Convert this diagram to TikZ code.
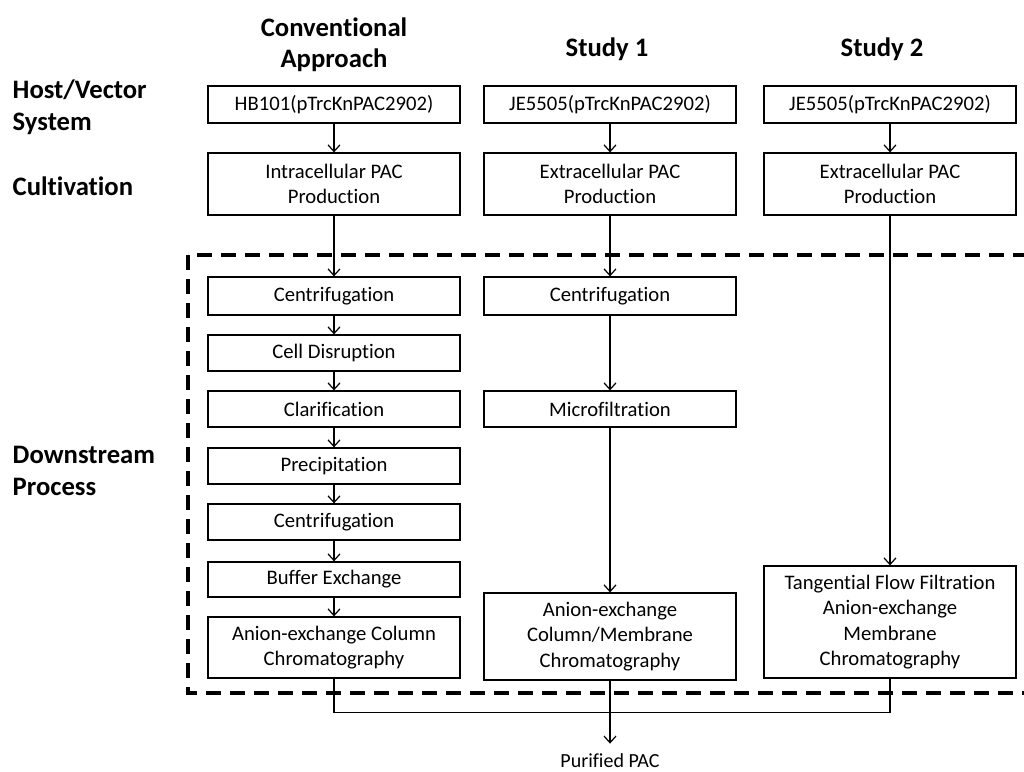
\documentclass[tikz,border=0pt]{standalone}
\usepackage{fontspec}
\setmainfont[Ligatures=NoCommon]{Carlito}
\usetikzlibrary{arrows.meta,positioning}

\begin{document}
\begin{tikzpicture}[
    x=0.75pt, y=-0.75pt,
    box/.style={rectangle, draw, line width=0.9pt, minimum width=189pt, minimum height=27pt, inner sep=2pt, align=center, font=\fontsize{15.5}{19}\selectfont},
    head/.style={align=center, font=\fontsize{20}{23}\selectfont\bfseries},
    side/.style={anchor=west, align=left, font=\fontsize{20}{24}\selectfont\bfseries},
    arrow/.style={-{Straight Barb[length=5pt,width=9pt]}, line width=0.9pt},
    link/.style={line width=0.9pt},
    dashbox/.style={line width=3pt, dash pattern=on 11.25pt off 6.75pt}
]
\useasboundingbox (0,0) rectangle (1024,771);

% headings
\node[head] (hconv) at (334,45) {Conventional\\Approach};
\node[head] (hst1) at (607,49) {Study 1};
\node[head] (hst2) at (882,49) {Study 2};
\node[side] (lhost) at (8,107) {Host/Vector\\System};
\node[side] (lcult) at (8,186) {Cultivation};
\node[side] (ldown) at (8,471) {Downstream\\Process};

% downstream frame
\draw[dashbox] (188,255) rectangle (1034,693);

% conventional approach
\node[box, minimum height=27.75pt] (hb) at (334,104.5) {HB101(pTrcKnPAC2902)};
\node[box, minimum height=46.5pt] (intra) at (334,184) {Intracellular PAC\\Production};
\node[box, minimum height=28.5pt] (cfa) at (334,296) {Centrifugation};
\node[box] (cdis) at (334,353) {Cell Disruption};
\node[box] (clar) at (334,409) {Clarification};
\node[box] (prec) at (334,466) {Precipitation};
\node[box] (cfb) at (334,522) {Centrifugation};
\node[box, minimum height=26.25pt] (bufx) at (334,579.5) {Buffer Exchange};
\node[box, minimum height=45.75pt] (aexa) at (334,647.5) {Anion-exchange Column\\Chromatography};

% study 1
\node[box, minimum height=27.75pt] (jea) at (610,104.5) {JE5505(pTrcKnPAC2902)};
\node[box, minimum height=46.5pt] (extra) at (610,184) {Extracellular PAC\\Production};
\node[box, minimum height=28.5pt] (cfc) at (610,296) {Centrifugation};
\node[box] (mfil) at (610,409) {Microfiltration};
\node[box, minimum height=65.25pt] (aexb) at (610,636.5) {Anion-exchange\\Column/Membrane\\Chromatography};

% study 2
\node[box, minimum height=27.75pt] (jeb) at (890,104.5) {JE5505(pTrcKnPAC2902)};
\node[box, minimum height=46.5pt] (extrb) at (890,184) {Extracellular PAC\\Production};
\node[box, minimum height=84pt] (tff) at (890,622) {Tangential Flow Filtration\\Anion-exchange\\Membrane\\Chromatography};

\node[anchor=north, inner sep=0pt, font=\fontsize{15}{18}\selectfont] (pur) at (610,753) {Purified PAC};

% connectors
\draw[arrow] (hb) -- (intra);
\draw[arrow] (intra) -- (cfa);
\draw[arrow] (cfa) -- (cdis);
\draw[arrow] (cdis) -- (clar);
\draw[arrow] (clar) -- (prec);
\draw[arrow] (prec) -- (cfb);
\draw[arrow] (cfb) -- (bufx);
\draw[arrow] (bufx) -- (aexa);
\draw[arrow] (jea) -- (extra);
\draw[arrow] (extra) -- (cfc);
\draw[arrow] (cfc) -- (mfil);
\draw[arrow] (mfil) -- (aexb);
\draw[arrow] (jeb) -- (extrb);
\draw[arrow] (extrb) -- (tff);
\draw[link] (aexa.south) -- ++(0,34) -| (tff.south);
\draw[arrow] (aexb.south) -- ++(0,63);
\end{tikzpicture}
\end{document}
